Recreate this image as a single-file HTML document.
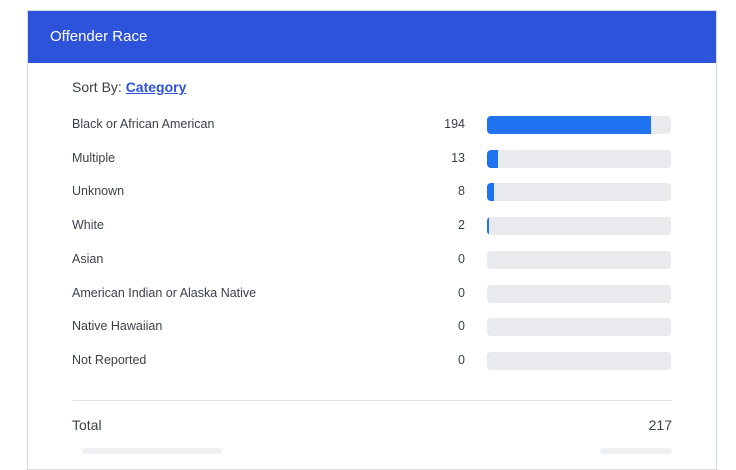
<!DOCTYPE html>
<html><head><meta charset="utf-8"><style>
body{margin:0;width:736px;height:452px;overflow:hidden;background:#fff;font-family:"Liberation Sans",sans-serif;position:relative}
.card{position:absolute;left:27px;top:10px;width:690px;height:460px;border:1px solid #d6dbe6;box-sizing:border-box}
.hdr{position:absolute;left:0;top:0;right:0;height:52px;background:#2c53d9;color:#fff;font-size:15px;line-height:52px;padding-left:22px}
.abs{position:absolute}
.lbl{font-size:12.5px;color:#3a3f4a}
.val{font-size:12.5px;color:#3a3f4a;text-align:right;width:60px}
</style></head><body>
<div class="card">
<div class="hdr">Offender Race</div>
</div>
<div class="abs" style="left:72px;top:79px;font-size:14px;color:#3a3f4a">Sort By: <a style="color:#2c53d9;font-weight:bold;text-decoration:underline">Category</a></div>
<div id="rows"></div>
<div class="abs" style="left:72px;top:400px;width:600px;height:1px;background:#dcdfe6"></div>
<div class="abs" style="left:72px;top:417px;font-size:14px;color:#3a3f4a">Total</div>
<div class="abs" id="total" style="left:572px;top:417px;width:100px;text-align:right;font-size:14px;color:#3a3f4a"></div>
<div class="abs" style="left:82px;top:448px;width:140px;height:6px;background:#eef0f3;border-radius:4px"></div>
<div class="abs" style="left:600px;top:448px;width:72px;height:6px;background:#eef0f3;border-radius:4px"></div>
<script>
const categories=["Black or African American","Multiple","Unknown","White","Asian","American Indian or Alaska Native","Native Hawaiian","Not Reported"];
const values=[194,13,8,2,0,0,0,0];
const total=217;
const rows=document.getElementById('rows');
const barX=487,barW=184,top0=116,step=33.7;
function xs(v){return v/total*barW;}
document.getElementById('total').textContent=total;
categories.forEach((c,i)=>{
  const y=top0+i*step;
  const l=document.createElement('div');l.className='abs lbl';l.style.left='72px';l.style.top=(y+1)+'px';l.textContent=c;
  
  
  rows.appendChild(l);
  const v=document.createElement('div');v.className='abs val';v.style.left='405px';v.style.top=(y+1)+'px';v.textContent=values[i];
  
  
  rows.appendChild(v);
  const t=document.createElement('div');t.className='abs';t.style.cssText=`left:${barX}px;top:${y}px;width:${barW}px;height:18px;background:#e8eaee;border-radius:4px;overflow:hidden`;
  
  
  const b=document.createElement('div');b.style.cssText=`width:${xs(values[i])}px;height:18px;background:#1f73f0`;
  
  
  t.appendChild(b);rows.appendChild(t);
});
</script>
</body></html>
